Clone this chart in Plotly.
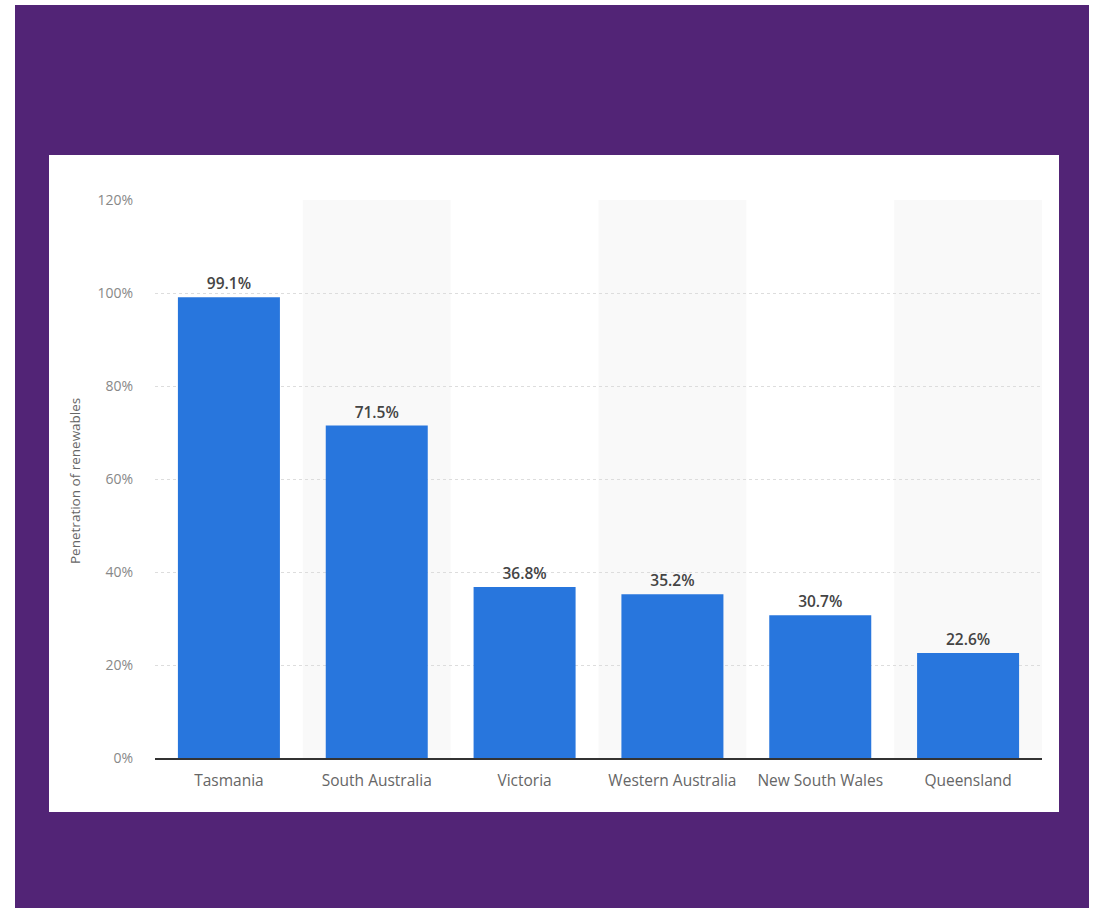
import plotly.graph_objects as go

categories = ["Tasmania", "South Australia", "Victoria", "Western Australia", "New South Wales", "Queensland"]
values = [99.1, 71.5, 36.8, 35.2, 30.7, 22.6]
y_ticks = [0, 20, 40, 60, 80, 100, 120]
y_tick_labels = ["0%", "20%", "40%", "60%", "80%", "100%", "120%"]

W, H = 1094, 909
L, R, T, B = 155, 1042, 200, 758
PW, PH = R - L, B - T

def px(x):
    return (x - L) / PW

def py(y):
    return (B - y) / PH

PURPLE = "#522476"
BLUE = "#2876dd"

shapes = [
    dict(type="rect", xref="paper", yref="paper", x0=px(15), x1=px(1089), y0=py(5), y1=py(908),
         fillcolor=PURPLE, line=dict(width=0), layer="below"),
    dict(type="rect", xref="paper", yref="paper", x0=px(49), x1=px(1059), y0=py(155), y1=py(812),
         fillcolor="white", line=dict(width=0), layer="below"),
]
for i in range(len(categories)):
    if i % 2 == 1:
        shapes.append(dict(type="rect", xref="x", yref="paper", x0=i - 0.5, x1=i + 0.5, y0=0, y1=1,
                           fillcolor="#f9f9f9", line=dict(width=0), layer="below"))

fig = go.Figure(go.Bar(
    x=categories, y=values, marker=dict(color=BLUE, line=dict(width=0)), width=0.69,
    texttemplate="%{y:.1f}%", textposition="outside", cliponaxis=False,
    textfont=dict(family="Open Sans", size=15.5, color="#444444", weight=600),
))

fig.update_layout(
    width=W, height=H, margin=dict(l=L, r=W - R, t=T, b=H - B, autoexpand=False),
    paper_bgcolor="white", plot_bgcolor="rgba(0,0,0,0)",
    shapes=shapes, showlegend=False,
    font=dict(family="Open Sans", color="#666666"),
    annotations=[dict(text="Penetration of renewables", textangle=-90, xref="paper", yref="paper",
                      x=px(75), y=py(481), xanchor="center", yanchor="middle", showarrow=False,
                      font=dict(family="Open Sans", size=13.5, color="#666666"))],
)
fig.update_xaxes(showline=True, linecolor="#333333", linewidth=1.5, showgrid=False,
                 ticklabelstandoff=8,
                 tickfont=dict(family="Open Sans", size=15.5, color="#666666"), ticks="", fixedrange=True)
fig.update_yaxes(range=[0, 120], tickvals=y_ticks, ticktext=y_tick_labels, showgrid=True,
                 gridcolor="#dddddd", griddash="dot", gridwidth=1, zeroline=False, showline=False,
                 ticklabelstandoff=21,
                 tickfont=dict(family="Open Sans", size=14, color="#888888"), ticks="")

fig.write_html("out.html")
